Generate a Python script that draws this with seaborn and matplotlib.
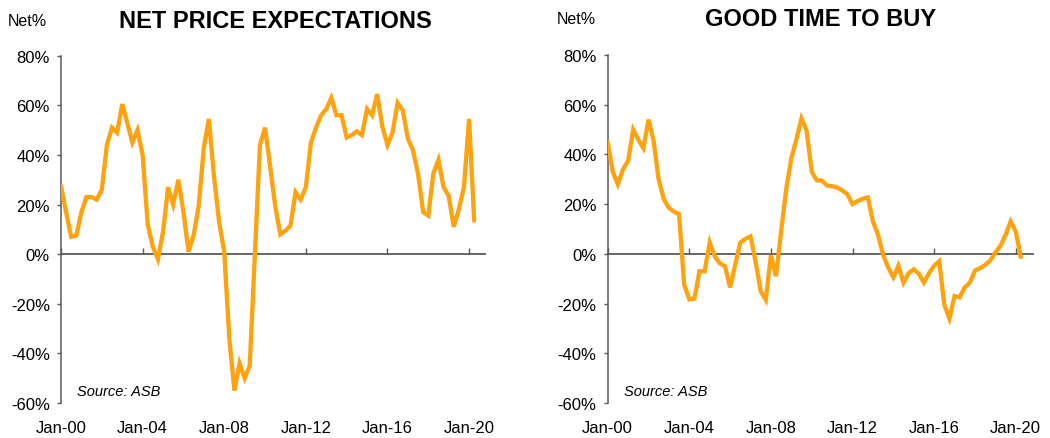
import numpy as np
import pandas as pd
import matplotlib
matplotlib.use("Agg")
import matplotlib.pyplot as plt
import matplotlib.dates as mdates
import matplotlib.ticker as mticker
import seaborn as sns

# ---------------- data (quarterly, from Jan-2000) ----------------
quarters = pd.date_range("2000-01-01", periods=82, freq="QS")

net_price_expectations = [
    27.5, 17, 7, 7.5, 17, 23, 23, 22, 26, 44, 51, 49,
    60.5, 53, 45, 50, 40, 12, 3, -2, 9, 27, 20, 30,
    17, 1, 7.5, 19.5, 43, 54.5, 31.5, 13, 1, -34, -55, -44,
    -50, -45, -1, 44, 51, 35.5, 19.5, 8, 9.5, 11.5, 25, 22,
    27, 45, 51, 56, 58.5, 63, 56, 56, 47, 48, 49.5, 48,
    58.5, 56, 64.5, 51.5, 44, 49, 61, 58, 46.5, 42, 32.5, 17,
    15.5, 32.5, 38, 27, 23.5, 11, 18, 27, 54.5, 13.5,
]

good_time_to_buy = [
    45, 33, 28, 34, 37.5, 50, 46, 42.5, 54, 45.5, 30, 22,
    18.5, 17, 16, -12.5, -18.3, -18, -7, -7, 4.6, -1, -3.8, -5,
    -13.5, -4.5, 4.5, 6, 7, -3, -15, -18.5, -0.5, -9, 9, 26,
    38.5, 46, 54.5, 49.5, 33, 29.6, 29.5, 27.5, 27.2, 26.7, 25.5, 24,
    20, 21.2, 22.2, 22.7, 13, 7.7, -0.4, -5.5, -9.4, -4.8, -11.6, -7.8,
    -6.2, -8, -11.6, -7.8, -4.8, -3, -20.5, -26, -17, -17.5, -13.5, -11.6,
    -6.7, -5.8, -4.5, -2.7, 0.5, 3.2, 7.5, 13, 9, -1.3,
]

titles = ["NET PRICE EXPECTATIONS", "GOOD TIME TO BUY"]
y_ticks = [-60, -40, -20, 0, 20, 40, 60, 80]
x_tick_years = [2000, 2004, 2008, 2012, 2016, 2020]
source_label = "Source: ASB"
unit_label = "Net%"

# ---------------- style ----------------
sns.set_theme(style="white")
plt.rcParams["font.family"] = ["Liberation Sans", "DejaVu Sans"]

LINE = "#FFA20F"
AXC = "#5a5a5a"
W, H = 1050, 439
fig = plt.figure(figsize=(W / 100, H / 100), dpi=100)

def fx(px):
    return px / W

def fy(py):
    return 1 - py / H

panels = [
    dict(data=net_price_expectations, x0=61, x1=485, top=56.7, bot=404,
         xmax="2020-10-12", title_x=275, title_y=21, unit_x=8, unit_y=21),
    dict(data=good_time_to_buy, x0=607.7, x1=1033.3, top=56, bot=404,
         xmax="2020-11-10", title_x=821, title_y=19, unit_x=557, unit_y=19.5),
]

for p, title in zip(panels, titles):
    ax = fig.add_axes([fx(p["x0"]), fy(p["bot"]), fx(p["x1"] - p["x0"]),
                       (p["bot"] - p["top"]) / H])
    df = pd.DataFrame({"date": quarters, "value": p["data"]})
    sns.lineplot(data=df, x="date", y="value", ax=ax, color=LINE,
                 linewidth=3.1, solid_joinstyle="miter", zorder=3)
    ax.set_xlim(pd.Timestamp("2000-01-01"), pd.Timestamp(p["xmax"]))
    ax.set_ylim(-60, 80)
    ax.set_xlabel("")
    ax.set_ylabel("")

    # y axis
    ax.set_yticks(y_ticks)
    ax.yaxis.set_major_formatter(mticker.FuncFormatter(lambda v, _: f"{int(v)}%"))
    ax.tick_params(axis="y", direction="out", length=3, width=1, color=AXC,
                   labelsize=12, pad=5, labelcolor="black", left=True)
    for s in ["top", "right"]:
        ax.spines[s].set_visible(False)
    ax.spines["left"].set_color(AXC)
    ax.spines["left"].set_linewidth(1.1)

    # bottom spine becomes the zero line, with small inward ticks
    tick_dates = [pd.Timestamp(f"{y}-01-01") for y in x_tick_years]
    ax.spines["bottom"].set_position(("data", 0))
    ax.spines["bottom"].set_color(AXC)
    ax.spines["bottom"].set_linewidth(1.3)
    ax.spines["bottom"].set_zorder(2)
    ax.set_xticks(tick_dates)
    ax.tick_params(axis="x", direction="in", length=4, width=1, color=AXC,
                   labelbottom=False, bottom=True)

    # labels at the bottom edge
    sec = ax.secondary_xaxis("bottom")
    sec.set_xticks(tick_dates)
    sec.xaxis.set_major_formatter(mdates.DateFormatter("%b-%y"))
    sec.tick_params(axis="x", length=0, labelsize=12, pad=12, labelcolor="black")
    sec.spines["bottom"].set_visible(False)

    ax.text(pd.Timestamp("2000-10-15"), -55, source_label, fontsize=10.5,
            style="italic", ha="left", va="center", color="black")

    fig.text(fx(p["title_x"]), fy(p["title_y"]), title, fontsize=17,
             fontweight="bold", ha="center", va="center", color="black")
    fig.text(fx(p["unit_x"]), fy(p["unit_y"]), unit_label, fontsize=11.5,
             ha="left", va="center", color="black")

fig.savefig("out.png", dpi=100, facecolor="white")
